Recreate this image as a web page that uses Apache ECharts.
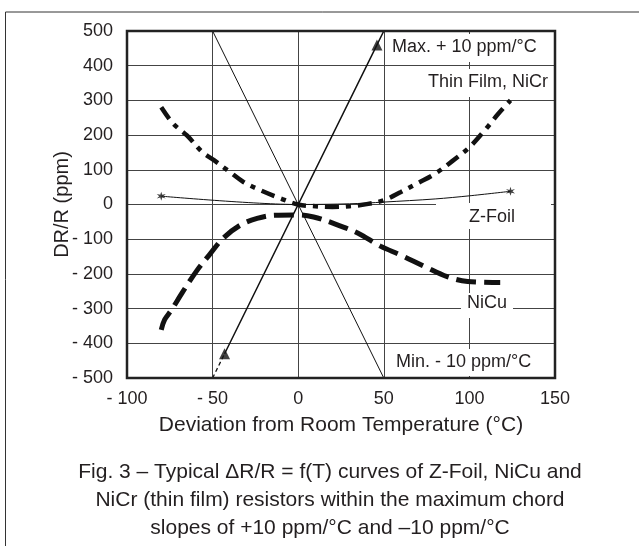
<!DOCTYPE html>
<html>
<head>
<meta charset="utf-8">
<script src="https://cdn.jsdelivr.net/npm/echarts@6/dist/echarts.min.js"></script>
<style>html,body{margin:0;padding:0;background:#fff;}#c{width:639px;height:546px;}</style>
</head>
<body>
<div id="c"></div>
<script>
// ---- data ----
const xMin = -100, xMax = 150, xStep = 50;
const yMin = -500, yMax = 500, yStep = 100;

const nicrT = [-80,-73,-65,-56,-49,-40,-32,-22,-10,0,10,20,30,40,50,60,70,80,90,100,110,117,124];
const nicrR = [280,233,199,151,127,94,65,41,17,0,-5,-7,-5,1,12,36,62,89,125,165,220,262,300];

const nicuT = [-80,-78,-74,-68,-59,-52,-44,-34,-24,-14,0,9,21,35,48,60,74,87,99,118];
const nicuR = [-361,-332,-304,-256,-189,-146,-98,-60,-40,-31,-30,-36,-55,-83,-120,-146,-179,-208,-222,-225];

const zfT = [-80,0,30,50,80,100,124];
const zfR = [24,0,2,7,16,25,38];

const maxSolidT = [-43,46,50];
const maxSolidR = [-430,460,500];
const maxDashT = [-50,-43];
const maxDashR = [-500,-430];
const maxMarkT = [-43,46];
const maxMarkR = [-430,460];

const minT = [-50,50];
const minR = [500,-500];

const zfMarkT = [-80,124];
const zfMarkR = [24,38];

const labelMax = 'Max. + 10 ppm/°C';
const labelMin = 'Min. - 10 ppm/°C';
const labelThin = 'Thin Film, NiCr';
const labelZ = 'Z-Foil';
const labelNiCu = 'NiCu';
const xTitle = 'Deviation from Room Temperature (°C)';
const yTitle = 'DR/R (ppm)';
const caption = [
  'Fig. 3 – Typical ΔR/R = f(T) curves of Z-Foil, NiCu and',
  'NiCr (thin film) resistors within the maximum chord',
  'slopes of +10 ppm/°C and –10 ppm/°C'
];

const zip = (a, b) => a.map((v, i) => [v, b[i]]);
const fmt = v => v < 0 ? '- ' + (-v) : String(v);

const FONT = '"Liberation Sans", Arial, Helvetica, sans-serif';
const INK = '#231f20';

const chart = echarts.init(document.getElementById('c'), null, {renderer: 'canvas'});

function box(x, y, w, h) {
  return {type: 'rect', shape: {x: x, y: y, width: w, height: h}, style: {fill: '#fff'}, z: 1, silent: true};
}
function txt(x, y, s, size, align) {
  return {type: 'text', x: x, y: y, z: 3, silent: true,
    style: {text: s, fill: INK, font: size + 'px ' + FONT, align: align || 'left', verticalAlign: 'middle'}};
}

const starPath = 'path://M0,-10L2,-3L9,-5L4,0L9,5L2,3L0,10L-2,3L-9,5L-4,0L-9,-5L-2,-3Z';

chart.setOption({
  animation: false,
  backgroundColor: '#fff',
  grid: {left: 127, top: 31, width: 428, height: 347, show: false},
  xAxis: {
    type: 'value', min: xMin, max: xMax, interval: xStep,
    axisLine: {show: false}, axisTick: {show: false},
    splitLine: {show: true, lineStyle: {color: '#444', width: 1}},
    axisLabel: {formatter: fmt, color: INK, fontSize: 18, fontFamily: FONT, margin: 12},
    name: xTitle, nameLocation: 'middle', nameGap: 37, nameMoveOverlap: false,
    nameTextStyle: {color: INK, fontSize: 21, fontFamily: FONT}
  },
  yAxis: {
    type: 'value', min: yMin, max: yMax, interval: yStep,
    axisLine: {show: false}, axisTick: {show: false},
    splitLine: {show: true, lineStyle: {color: '#444', width: 1}},
    axisLabel: {formatter: fmt, color: INK, fontSize: 18, fontFamily: FONT, margin: 14},
    name: yTitle, nameLocation: 'middle', nameGap: 55, nameRotate: 90, nameMoveOverlap: false,
    nameTextStyle: {color: INK, fontSize: 20, fontFamily: FONT}
  },
  graphic: [
    // outer frame
    {type: 'polyline', shape: {points: [[5.5, 560], [5.5, 12], [650, 12]]}, style: {stroke: '#333', lineWidth: 1, fill: null}, z: 1, silent: true},
    // white label boxes breaking the grid
    box(388, 34, 165, 28),
    box(418, 69, 135, 28),
    box(436, 203, 115, 26),
    box(461, 293, 52, 25),
    box(390, 349, 163, 27),
    txt(392, 47, labelMax, 18),
    txt(548, 82, labelThin, 18, 'right'),
    txt(469, 217, labelZ, 18),
    txt(467, 303, labelNiCu, 18),
    txt(396, 362, labelMin, 18),
    // plot frame
    {type: 'rect', shape: {x: 127, y: 31, width: 428, height: 347}, style: {fill: null, stroke: '#222', lineWidth: 2.5}, z: 4, silent: true},
    // caption
    txt(330, 472, caption[0], 21, 'center'),
    txt(330, 500, caption[1], 21, 'center'),
    txt(330, 528, caption[2], 21, 'center')
  ],
  series: [
    {type: 'line', name: 'Min', data: zip(minT, minR), symbol: 'none', lineStyle: {color: '#111', width: 1}, z: 2},
    {type: 'line', name: 'MaxDash', data: zip(maxDashT, maxDashR), symbol: 'none', lineStyle: {color: '#111', width: 1.3, type: [4, 3]}, z: 2},
    {type: 'line', name: 'Max', data: zip(maxSolidT, maxSolidR), symbol: 'none', lineStyle: {color: '#111', width: 1.5}, z: 2},
    {type: 'scatter', name: 'MaxMark', data: zip(maxMarkT, maxMarkR), symbol: 'triangle', symbolSize: 11, itemStyle: {color: '#111'}, z: 3},
    {type: 'line', name: 'Z-Foil', data: zip(zfT, zfR), smooth: 0.3, symbol: 'none', lineStyle: {color: '#111', width: 1}, z: 2},
    {type: 'scatter', name: 'ZMark', data: zip(zfMarkT, zfMarkR), symbol: starPath, symbolSize: 9, itemStyle: {color: '#111'}, z: 3},
    {type: 'line', name: 'NiCr', data: zip(nicrT, nicrR), smooth: 0.35, symbol: 'none', lineStyle: {color: '#111', width: 4.5, type: [14, 7, 5, 7]}, z: 2},
    {type: 'line', name: 'NiCu', data: zip(nicuT, nicuR), smooth: 0.35, symbol: 'none', lineStyle: {color: '#111', width: 5, type: [20, 8]}, z: 2}
  ]
});
</script>
</body>
</html>
